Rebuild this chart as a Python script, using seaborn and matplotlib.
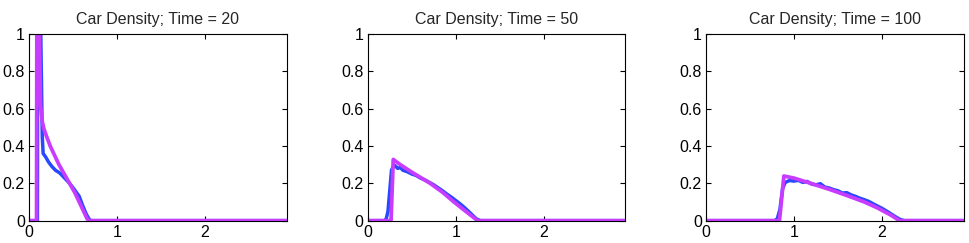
import numpy as np
import pandas as pd
import matplotlib
matplotlib.use('Agg')
import matplotlib.pyplot as plt
import seaborn as sns

# Times shown in the three panels
times = [20, 50, 100]

# Simulation (blue) curves
sim_x_20 = [0, 0.095, 0.10, 0.125, 0.133, 0.15, 0.16, 0.19, 0.22, 0.26, 0.30, 0.35, 0.40, 0.46, 0.51, 0.57, 0.61, 0.65, 0.68, 0.70, 2.93]
sim_y_20 = [0, 0, 1.6, 1.3, 1.0, 0.45, 0.36, 0.34, 0.315, 0.29, 0.27, 0.255, 0.23, 0.20, 0.17, 0.13, 0.08, 0.035, 0.01, 0, 0]

sim_x_50 = [0, 0.19, 0.21, 0.23, 0.25, 0.27, 0.29, 0.31, 0.34, 0.37, 0.40, 0.45, 0.50, 0.55, 0.60, 0.65,
            0.70, 0.75, 0.80, 0.85, 0.90, 0.95, 1.00, 1.05, 1.10, 1.15, 1.20, 1.24, 1.28, 2.93]
sim_y_50 = [0, 0, 0.01, 0.05, 0.16, 0.27, 0.29, 0.295, 0.28, 0.285, 0.27, 0.262, 0.25, 0.242, 0.228, 0.218,
            0.205, 0.192, 0.176, 0.16, 0.142, 0.126, 0.108, 0.09, 0.07, 0.048, 0.025, 0.008, 0, 0]

sim_x_100 = [0, 0.78, 0.81, 0.84, 0.87, 0.90, 0.95, 1.00, 1.05, 1.10, 1.15, 1.20, 1.25, 1.30, 1.35, 1.40,
             1.45, 1.50, 1.55, 1.60, 1.65, 1.70, 1.75, 1.80, 1.85, 1.90, 1.95, 2.00, 2.05, 2.10, 2.15, 2.20, 2.25, 2.93]
sim_y_100 = [0, 0, 0.01, 0.06, 0.17, 0.205, 0.215, 0.212, 0.216, 0.205, 0.21, 0.196, 0.192, 0.198, 0.18, 0.175,
             0.166, 0.16, 0.148, 0.15, 0.138, 0.13, 0.12, 0.112, 0.103, 0.09, 0.078, 0.066, 0.052, 0.037, 0.022, 0.008, 0, 0]

# Model (magenta) curves
mod_x_20 = [0, 0.085, 0.09, 0.105, 0.117, 0.13, 0.15, 0.17, 0.20, 0.24, 0.29, 0.34, 0.40, 0.46, 0.52, 0.57, 0.62, 0.66, 0.68, 2.93]
mod_y_20 = [0, 0, 1.5, 1.2, 1.0, 0.62, 0.53, 0.49, 0.45, 0.40, 0.35, 0.30, 0.25, 0.20, 0.15, 0.10, 0.05, 0.01, 0, 0]

mod_x_50 = [0, 0.265, 0.29, 0.37, 0.50, 0.71, 0.85, 0.98, 1.10, 1.20, 1.25, 2.93]
mod_y_50 = [0, 0, 0.328, 0.30, 0.26, 0.20, 0.152, 0.10, 0.055, 0.018, 0, 0]

mod_x_100 = [0, 0.835, 0.885, 1.00, 1.19, 1.40, 1.60, 1.80, 1.95, 2.10, 2.20, 2.93]
mod_y_100 = [0, 0, 0.239, 0.228, 0.20, 0.168, 0.135, 0.10, 0.068, 0.03, 0, 0]

sim_x = [sim_x_20, sim_x_50, sim_x_100]
sim_y = [sim_y_20, sim_y_50, sim_y_100]
mod_x = [mod_x_20, mod_x_50, mod_x_100]
mod_y = [mod_y_20, mod_y_50, mod_y_100]

sns.set_style('white')
plt.rcParams['font.family'] = ['Liberation Sans', 'DejaVu Sans']

blue = '#2a48ff'
magenta = '#c83cff'

fig = plt.figure(figsize=(9.69, 2.43), dpi=100)
lefts = [0.030, 0.3795, 0.7286]

for i, t in enumerate(times):
    ax = fig.add_axes([lefts[i], 0.092, 0.266, 0.768])
    sim = pd.DataFrame({'x': sim_x[i], 'y': sim_y[i]})
    mod = pd.DataFrame({'x': mod_x[i], 'y': mod_y[i]})
    sns.lineplot(data=sim, x='x', y='y', ax=ax, color=blue, lw=2.5,
                 estimator=None, sort=False)
    sns.lineplot(data=mod, x='x', y='y', ax=ax, color=magenta, lw=2.7,
                 estimator=None, sort=False)
    ax.set_xlim(0, 2.93)
    ax.set_ylim(0, 1)
    ax.set_xticks([0, 1, 2])
    ax.set_yticks([0, 0.2, 0.4, 0.6, 0.8, 1])
    ax.xaxis.set_major_formatter(matplotlib.ticker.FuncFormatter(lambda v, p: f'{v:g}'))
    ax.yaxis.set_major_formatter(matplotlib.ticker.FuncFormatter(lambda v, p: f'{v:g}'))
    ax.tick_params(direction='in', length=3.5, width=0.8, labelsize=11.5,
                   top=True, right=True, bottom=True, left=True, pad=3, colors='black')
    for s in ax.spines.values():
        s.set_color('black')
        s.set_linewidth(0.8)
    ax.set_xlabel('')
    ax.set_ylabel('')
    ax.set_title(f'Car Density; Time = {t}', fontsize=11.5, pad=7)

fig.savefig('out.png', dpi=100)
